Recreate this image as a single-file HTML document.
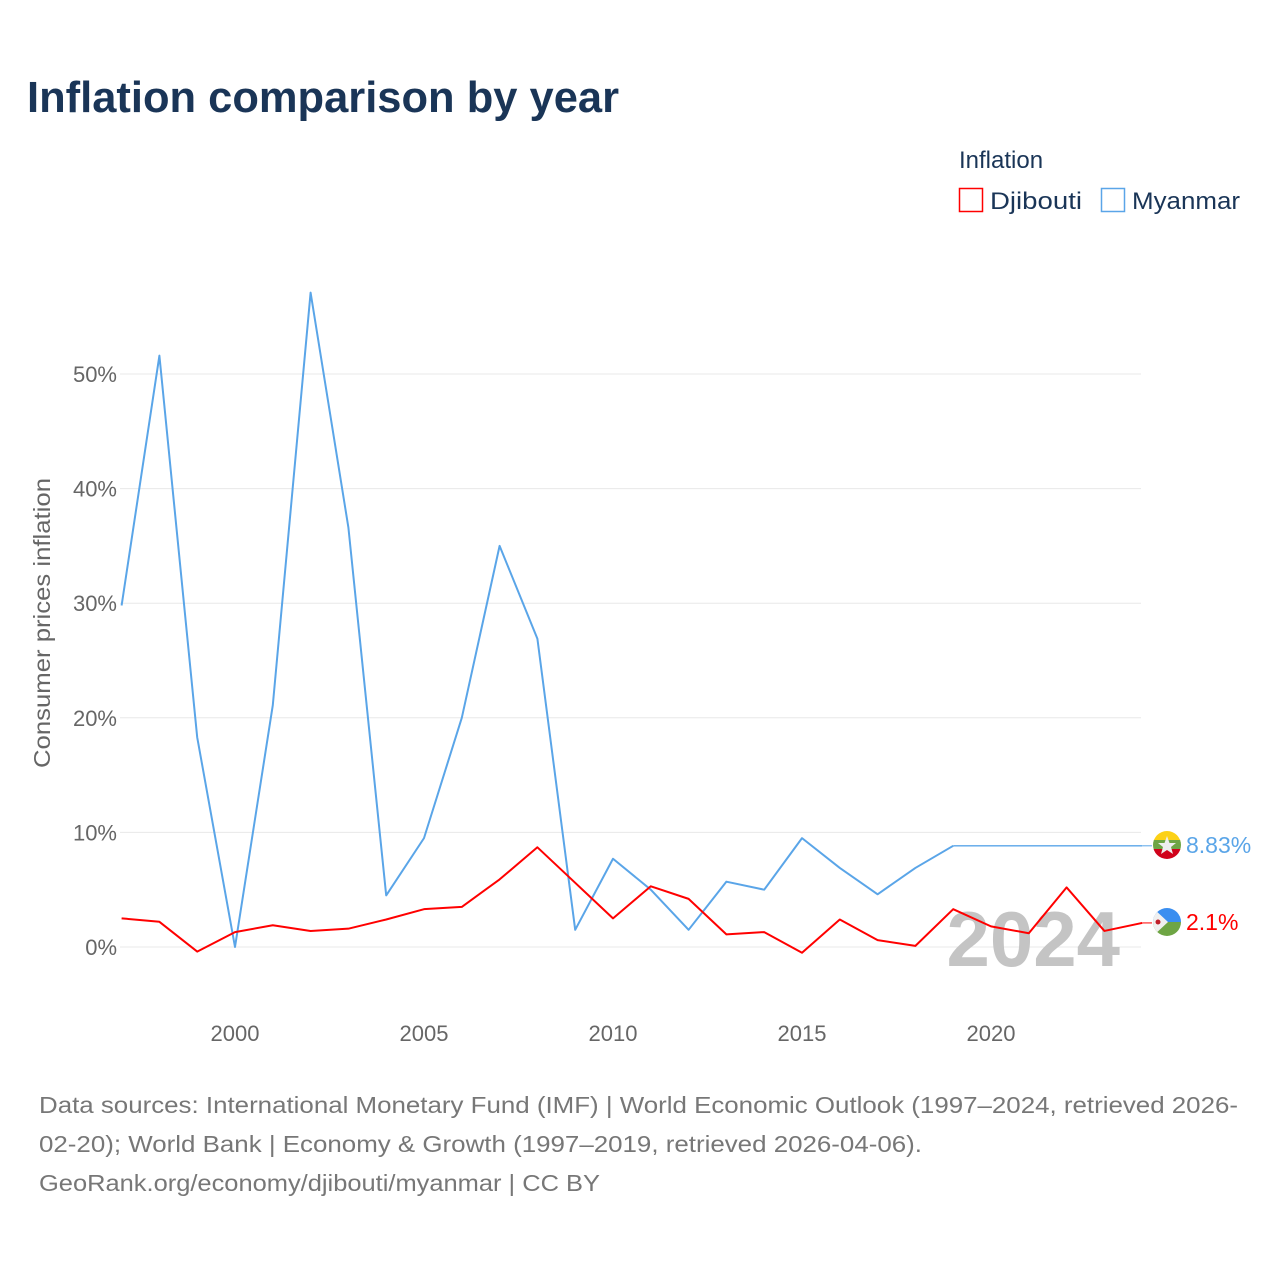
<!DOCTYPE html>
<html><head><meta charset="utf-8"><style>
body{margin:0;background:#fff;width:1280px;height:1280px;overflow:hidden;font-family:"Liberation Sans",sans-serif}
</style></head><body>
<svg id="chart" width="1280" height="1280" xmlns="http://www.w3.org/2000/svg" font-family="Liberation Sans, sans-serif">
<defs>
<clipPath id="cm"><circle cx="1167" cy="845" r="14"/></clipPath>
<clipPath id="cd"><circle cx="1167" cy="922" r="14"/></clipPath>
</defs>
<text x="27" y="112" font-size="44" font-weight="bold" fill="#1a3557" textLength="592" lengthAdjust="spacingAndGlyphs">Inflation comparison by year</text>
<text x="959" y="168" font-size="24" fill="#1a3557">Inflation</text>
<g><rect x="959.5" y="188.5" width="23" height="23" fill="none" stroke="#f00" stroke-width="1.5"/><text x="990" y="209" font-size="24" fill="#1a3557" textLength="92" lengthAdjust="spacingAndGlyphs">Djibouti</text></g>
<g><rect x="1101.5" y="188.5" width="23" height="23" fill="none" stroke="#5aa5e8" stroke-width="1.5"/><text x="1132" y="209" font-size="24" fill="#1a3557" textLength="108" lengthAdjust="spacingAndGlyphs">Myanmar</text></g>
<g id="grid"></g>
<text transform="translate(50,623) rotate(-90)" text-anchor="middle" font-size="23" fill="#666" textLength="290" lengthAdjust="spacingAndGlyphs">Consumer prices inflation</text>
<text x="1120" y="966" text-anchor="end" font-size="78" font-weight="bold" fill="#c4c4c4">2024</text>
<g id="series"></g>
<g clip-path="url(#cm)">
<rect x="1153" y="831" width="28" height="10" fill="#fcd116"/><rect x="1153" y="840" width="28" height="10" fill="#6ea544"/><rect x="1153" y="849" width="28" height="10" fill="#d0021b"/>
<polygon points="1167,836 1169.5,843 1176,843 1171,847 1173,854 1167,850 1161,854 1163,847 1158,843 1164.5,843" fill="#eee"/></g>
<g clip-path="url(#cd)">
<rect x="1153" y="908" width="28" height="14" fill="#3a8ef0"/><rect x="1153" y="922" width="28" height="14" fill="#6ea544"/>
<polygon points="1153,908 1168,922 1153,936" fill="#f0f0f0"/><circle cx="1158" cy="922" r="2.5" fill="#c0202a"/></g>
<text x="1186" y="853" font-size="23" fill="#5aa5e8">8.83%</text>
<text x="1186" y="930" font-size="23" fill="#f00">2.1%</text>
<g font-size="23" fill="#777">
<text x="39" y="1113" textLength="1199" lengthAdjust="spacingAndGlyphs">Data sources: International Monetary Fund (IMF) | World Economic Outlook (1997–2024, retrieved 2026-</text>
<text x="39" y="1152" textLength="883" lengthAdjust="spacingAndGlyphs">02-20); World Bank | Economy &amp; Growth (1997–2019, retrieved 2026-04-06).</text>
<text x="39" y="1191" textLength="561" lengthAdjust="spacingAndGlyphs">GeoRank.org/economy/djibouti/myanmar | CC BY</text>
</g>
</svg>
<script>
const years=[1997,1998,1999,2000,2001,2002,2003,2004,2005,2006,2007,2008,2009,2010,2011,2012,2013,2014,2015,2016,2017,2018,2019,2020,2021,2022,2023,2024];
const myanmar=[29.8,51.6,18.3,0.0,21.1,57.1,36.6,4.5,9.5,20.0,35.0,26.9,1.5,7.7,5.0,1.5,5.7,5.0,9.5,6.9,4.6,6.9,8.83,8.83,8.83,8.83,8.83,8.83];
const djibouti=[2.5,2.2,-0.4,1.3,1.9,1.4,1.6,2.4,3.3,3.5,5.9,8.7,5.6,2.5,5.3,4.2,1.1,1.3,-0.5,2.4,0.6,0.1,3.3,1.8,1.2,5.2,1.4,2.1];
const yTicks=[0,10,20,30,40,50];
const xTicks=[2000,2005,2010,2015,2020];
const NS='http://www.w3.org/2000/svg';
const xs=y=>121.6+(y-1997)*37.8;
const ys=v=>947-v*11.46;
const grid=document.getElementById('grid'),ser=document.getElementById('series');
function mk(tag,attrs,parent){const e=document.createElementNS(NS,tag);for(const k in attrs)e.setAttribute(k,attrs[k]);parent.appendChild(e);return e;}
yTicks.forEach(t=>{
 const l=mk('line',{x1:120,x2:1141,y1:ys(t),y2:ys(t),stroke:'#e8e8e8','stroke-width':1},grid);
 
 
 const tx=mk('text',{x:117,y:ys(t)+8,'text-anchor':'end','font-size':22,fill:'#666'},grid);
 tx.textContent=t+'%';
 
 
});
xTicks.forEach(t=>{
 const tx=mk('text',{x:xs(t),y:1041,'text-anchor':'middle','font-size':22,fill:'#666'},grid);
 tx.textContent=t;
 
 
});
function line(vals,color,name,splitIdx){
 const end=splitIdx==null?vals.length:splitIdx+1;
 const p=mk('polyline',{points:vals.slice(0,end).map((v,i)=>xs(years[i])+','+ys(v)).join(' '),fill:'none',stroke:color,'stroke-width':2,'stroke-linejoin':'round'},ser);
 
 
 if(splitIdx!=null){
  const q=mk('polyline',{points:vals.slice(splitIdx).map((v,i)=>xs(years[i+splitIdx])+','+ys(v)).join(' '),fill:'none',stroke:color,'stroke-width':1.3},ser);
  
  
 }
 const last=vals.length-1;
 const c=mk('line',{x1:xs(years[last]),x2:1152,y1:ys(vals[last]),y2:ys(vals[last]),stroke:color,'stroke-width':1},ser);
 
 
}
line(myanmar,'#5aa5e8','line-myanmar',22);
line(djibouti,'#f00','line-djibouti',null);
</script>
</body></html>
